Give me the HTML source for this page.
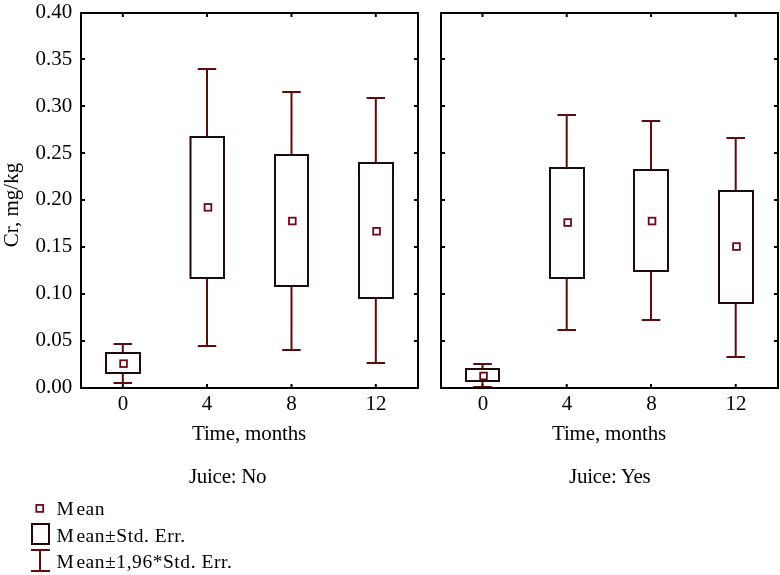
<!DOCTYPE html>
<html><head><meta charset="utf-8"><title>Cr, mg/kg box plot</title>
<style>
html,body{margin:0;padding:0;background:#fff;}
body{width:780px;height:575px;overflow:hidden;}
svg{display:block;}
text{font-family:"Liberation Serif", "Times New Roman", serif;font-size:21px;fill:#000;}
text.lg{font-size:19.5px;letter-spacing:0.55px;}
</style></head><body>
<svg width="780" height="575" viewBox="0 0 780 575">
<rect x="0" y="0" width="780" height="575" fill="#fff"/>
<g>
<rect x="121.80" y="14" width="2" height="3" fill="#000"/>
<rect x="121.80" y="384" width="2" height="3" fill="#000"/>
<rect x="206.00" y="14" width="2" height="3" fill="#000"/>
<rect x="206.00" y="384" width="2" height="3" fill="#000"/>
<rect x="290.50" y="14" width="2" height="3" fill="#000"/>
<rect x="290.50" y="384" width="2" height="3" fill="#000"/>
<rect x="374.80" y="14" width="2" height="3" fill="#000"/>
<rect x="374.80" y="384" width="2" height="3" fill="#000"/>
<rect x="481.50" y="14" width="2" height="3" fill="#000"/>
<rect x="481.50" y="384" width="2" height="3" fill="#000"/>
<rect x="565.70" y="14" width="2" height="3" fill="#000"/>
<rect x="565.70" y="384" width="2" height="3" fill="#000"/>
<rect x="650.00" y="14" width="2" height="3" fill="#000"/>
<rect x="650.00" y="384" width="2" height="3" fill="#000"/>
<rect x="734.70" y="14" width="2" height="3" fill="#000"/>
<rect x="734.70" y="384" width="2" height="3" fill="#000"/>
<rect x="121.80" y="343" width="2" height="9" fill="#5e0b0d"/>
<rect x="121.80" y="374" width="2" height="8" fill="#5e0b0d"/>
<rect x="113.55" y="343" width="18.5" height="2" fill="#5e0b0d"/>
<rect x="113.55" y="382" width="18.5" height="2" fill="#5e0b0d"/>
<rect x="106" y="353" width="34" height="20" fill="#fff" stroke="#1e0a0e" stroke-width="2"/>
<rect x="206.00" y="68" width="2" height="68" fill="#5e0b0d"/>
<rect x="206.00" y="279" width="2" height="66" fill="#5e0b0d"/>
<rect x="197.75" y="68" width="18.5" height="2" fill="#5e0b0d"/>
<rect x="197.75" y="345" width="18.5" height="2" fill="#5e0b0d"/>
<rect x="190.5" y="137" width="33.5" height="141" fill="#fff" stroke="#1e0a0e" stroke-width="2"/>
<rect x="290.50" y="91" width="2" height="63" fill="#5e0b0d"/>
<rect x="290.50" y="287" width="2" height="62" fill="#5e0b0d"/>
<rect x="282.25" y="91" width="18.5" height="2" fill="#5e0b0d"/>
<rect x="282.25" y="349" width="18.5" height="2" fill="#5e0b0d"/>
<rect x="275" y="155" width="33" height="131" fill="#fff" stroke="#1e0a0e" stroke-width="2"/>
<rect x="374.80" y="97" width="2" height="65" fill="#5e0b0d"/>
<rect x="374.80" y="299" width="2" height="63" fill="#5e0b0d"/>
<rect x="366.55" y="97" width="18.5" height="2" fill="#5e0b0d"/>
<rect x="366.55" y="362" width="18.5" height="2" fill="#5e0b0d"/>
<rect x="359" y="163" width="34" height="135" fill="#fff" stroke="#1e0a0e" stroke-width="2"/>
<rect x="481.50" y="363" width="2" height="5" fill="#5e0b0d"/>
<rect x="481.50" y="382" width="2" height="4" fill="#5e0b0d"/>
<rect x="473.25" y="363" width="18.5" height="2" fill="#5e0b0d"/>
<rect x="473.25" y="386" width="18.5" height="2" fill="#5e0b0d"/>
<rect x="466" y="369" width="33" height="12" fill="#fff" stroke="#1e0a0e" stroke-width="2"/>
<rect x="565.70" y="114" width="2" height="53" fill="#5e0b0d"/>
<rect x="565.70" y="279" width="2" height="50" fill="#5e0b0d"/>
<rect x="557.45" y="114" width="18.5" height="2" fill="#5e0b0d"/>
<rect x="557.45" y="329" width="18.5" height="2" fill="#5e0b0d"/>
<rect x="550" y="168" width="34" height="110" fill="#fff" stroke="#1e0a0e" stroke-width="2"/>
<rect x="650.00" y="120" width="2" height="49" fill="#5e0b0d"/>
<rect x="650.00" y="272" width="2" height="47" fill="#5e0b0d"/>
<rect x="641.75" y="120" width="18.5" height="2" fill="#5e0b0d"/>
<rect x="641.75" y="319" width="18.5" height="2" fill="#5e0b0d"/>
<rect x="634" y="170" width="34" height="101" fill="#fff" stroke="#1e0a0e" stroke-width="2"/>
<rect x="734.70" y="137" width="2" height="53" fill="#5e0b0d"/>
<rect x="734.70" y="304" width="2" height="52" fill="#5e0b0d"/>
<rect x="726.45" y="137" width="18.5" height="2" fill="#5e0b0d"/>
<rect x="726.45" y="356" width="18.5" height="2" fill="#5e0b0d"/>
<rect x="719" y="191" width="34" height="112" fill="#fff" stroke="#1e0a0e" stroke-width="2"/>
</g>
<g shape-rendering="crispEdges">
<rect x="80" y="12" width="339" height="2" fill="#000"/>
<rect x="80" y="387" width="339" height="2" fill="#000"/>
<rect x="80" y="12" width="2" height="377" fill="#000"/>
<rect x="417" y="12" width="2" height="377" fill="#000"/>
<rect x="82" y="339.62" width="3" height="2" fill="#000"/>
<rect x="414" y="339.62" width="3" height="2" fill="#000"/>
<rect x="82" y="292.75" width="3" height="2" fill="#000"/>
<rect x="414" y="292.75" width="3" height="2" fill="#000"/>
<rect x="82" y="245.88" width="3" height="2" fill="#000"/>
<rect x="414" y="245.88" width="3" height="2" fill="#000"/>
<rect x="82" y="199.0" width="3" height="2" fill="#000"/>
<rect x="414" y="199.0" width="3" height="2" fill="#000"/>
<rect x="82" y="152.12" width="3" height="2" fill="#000"/>
<rect x="414" y="152.12" width="3" height="2" fill="#000"/>
<rect x="82" y="105.25" width="3" height="2" fill="#000"/>
<rect x="414" y="105.25" width="3" height="2" fill="#000"/>
<rect x="82" y="58.38" width="3" height="2" fill="#000"/>
<rect x="414" y="58.38" width="3" height="2" fill="#000"/>
<rect x="440" y="12" width="339" height="2" fill="#000"/>
<rect x="440" y="387" width="339" height="2" fill="#000"/>
<rect x="440" y="12" width="2" height="377" fill="#000"/>
<rect x="777" y="12" width="2" height="377" fill="#000"/>
<rect x="442" y="339.62" width="3" height="2" fill="#000"/>
<rect x="774" y="339.62" width="3" height="2" fill="#000"/>
<rect x="442" y="292.75" width="3" height="2" fill="#000"/>
<rect x="774" y="292.75" width="3" height="2" fill="#000"/>
<rect x="442" y="245.88" width="3" height="2" fill="#000"/>
<rect x="774" y="245.88" width="3" height="2" fill="#000"/>
<rect x="442" y="199.0" width="3" height="2" fill="#000"/>
<rect x="774" y="199.0" width="3" height="2" fill="#000"/>
<rect x="442" y="152.12" width="3" height="2" fill="#000"/>
<rect x="774" y="152.12" width="3" height="2" fill="#000"/>
<rect x="442" y="105.25" width="3" height="2" fill="#000"/>
<rect x="774" y="105.25" width="3" height="2" fill="#000"/>
<rect x="442" y="58.38" width="3" height="2" fill="#000"/>
<rect x="774" y="58.38" width="3" height="2" fill="#000"/>
<rect x="32" y="524" width="17" height="20" fill="#fff" stroke="#1e0a0e" stroke-width="2"/>
<rect x="31" y="549" width="19" height="2" fill="#5e0b0d"/>
<rect x="31" y="570" width="19" height="2" fill="#5e0b0d"/>
<rect x="39" y="549" width="2" height="23" fill="#5e0b0d"/>
</g>
<g>
<rect x="120.20" y="360.30" width="6.7" height="6.7" fill="#fff" stroke="#6a0a1a" stroke-width="1.8"/>
<rect x="204.60" y="204.00" width="6.7" height="6.7" fill="#fff" stroke="#6a0a1a" stroke-width="1.8"/>
<rect x="289.00" y="217.70" width="6.7" height="6.7" fill="#fff" stroke="#6a0a1a" stroke-width="1.8"/>
<rect x="373.20" y="227.90" width="6.7" height="6.7" fill="#fff" stroke="#6a0a1a" stroke-width="1.8"/>
<rect x="480.20" y="372.65" width="6.7" height="6.7" fill="#fff" stroke="#6a0a1a" stroke-width="1.8"/>
<rect x="564.30" y="219.20" width="6.7" height="6.7" fill="#fff" stroke="#6a0a1a" stroke-width="1.8"/>
<rect x="648.70" y="217.70" width="6.7" height="6.7" fill="#fff" stroke="#6a0a1a" stroke-width="1.8"/>
<rect x="733.10" y="243.20" width="6.7" height="6.7" fill="#fff" stroke="#6a0a1a" stroke-width="1.8"/>
<rect x="36.30" y="504.95" width="6.9" height="6.9" fill="#fff" stroke="#6a0a1a" stroke-width="1.8"/>
</g>
<g>
<text x="72.3" y="392.9" text-anchor="end" >0.00</text>
<text x="72.3" y="346.02" text-anchor="end" >0.05</text>
<text x="72.3" y="299.15" text-anchor="end" >0.10</text>
<text x="72.3" y="252.28" text-anchor="end" >0.15</text>
<text x="72.3" y="205.4" text-anchor="end" >0.20</text>
<text x="72.3" y="158.53" text-anchor="end" >0.25</text>
<text x="72.3" y="111.65" text-anchor="end" >0.30</text>
<text x="72.3" y="64.78" text-anchor="end" >0.35</text>
<text x="72.3" y="17.9" text-anchor="end" >0.40</text>
<text x="122.89999999999999" y="409.8" text-anchor="middle" >0</text>
<text x="207.1" y="409.8" text-anchor="middle" >4</text>
<text x="291.6" y="409.8" text-anchor="middle" >8</text>
<text x="375.90000000000003" y="409.8" text-anchor="middle" >12</text>
<text x="249" y="440" text-anchor="middle" letter-spacing="-0.15">Time, months</text>
<text x="482.90000000000003" y="409.8" text-anchor="middle" >0</text>
<text x="567.1" y="409.8" text-anchor="middle" >4</text>
<text x="651.6" y="409.8" text-anchor="middle" >8</text>
<text x="735.9" y="409.8" text-anchor="middle" >12</text>
<text x="609" y="440" text-anchor="middle" letter-spacing="-0.15">Time, months</text>
<text x="189" y="483" text-anchor="start" letter-spacing="-0.3">Juice: No</text>
<text x="569" y="483" text-anchor="start" letter-spacing="-0.25">Juice: Yes</text>
<text x="0" y="0" text-anchor="middle" transform="translate(17.7,205) rotate(-90)">Cr, mg/kg</text>
<text class="lg" x="56.5" y="515">M<tspan dx="2">ean</tspan></text>
<text class="lg" x="56.5" y="541.5">M<tspan dx="2">ean±Std. Err.</tspan></text>
<text class="lg" x="56.5" y="568">M<tspan dx="2">ean±1,96*Std. Err.</tspan></text>
</g>
</svg>
</body></html>
